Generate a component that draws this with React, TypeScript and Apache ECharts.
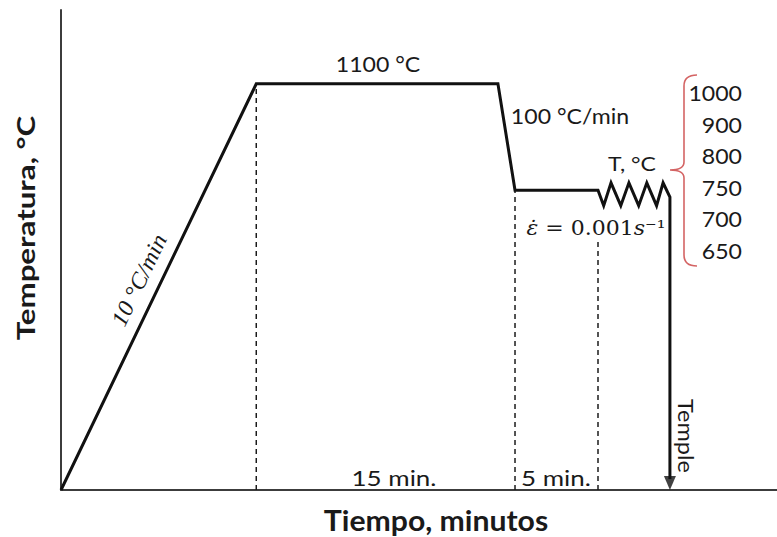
import React, { useEffect, useRef } from "react";
import * as echarts from "echarts";

// Thermal cycle (schematic time in minutes, temperature in °C)
const profileTime = [0, 12, 26.85, 27.9, 33];
const profileTemp = [0, 1100, 1100, 812, 812];

// Deformation zig-zag followed by the quench drop
const zigzagTime = [33, 33.35, 33.8, 34.4, 34.9, 35.5, 36.0, 36.6, 37.0, 37.42, 37.42];
const zigzagTemp = [812, 770, 832, 770, 832, 770, 832, 770, 832, 793, 30];

// Dashed guide lines dropped to the time axis
const guideTime = [12, 27.9, 33];
const guideTop = [1100, 812, 672];

// Arrow head at the end of the quench
const quenchTip: [number, number] = [37.42, 19];

// Deformation temperatures listed on the right
const deformTemps = [1000, 900, 800, 750, 700, 650];

const BRACE_D =
  "M697,75 Q684,75 684,86 L684,162 Q684,170 670,170 Q684,170 684,178 L684,255 Q684,266 697,266";
echarts.graphic.registerShape("brace", echarts.graphic.extendPath(BRACE_D, {}));

const SANS = "Lato, 'Open Sans', sans-serif";
const INK = "#1a1a1a";

function label(text: string, x: number, y: number, size: number, extra: any = {}) {
  return {
    type: "text",
    x,
    y,
    rotation: extra.rotation || 0,
    scaleX: extra.scaleX || 1.1,
    scaleY: 1,
    silent: true,
    style: {
      text,
      fill: INK,
      fontFamily: extra.fontFamily || SANS,
      fontSize: size,
      fontWeight: extra.fontWeight || "normal",
      fontStyle: extra.fontStyle || "normal",
      align: extra.align || "center",
      textAlign: extra.align || "center",
      verticalAlign: "middle",
      textVerticalAlign: "middle",
    },
  };
}

export default function App() {
  const ref = useRef<HTMLDivElement>(null);

  useEffect(() => {
    if (!ref.current) return;
    const chart = echarts.init(ref.current, null, { renderer: "svg" });

    const mainData = profileTime
      .map((t, i) => [t, profileTemp[i]])
      .concat(zigzagTime.map((t, i) => [t, zigzagTemp[i]]));

    const guides = guideTime.map((t, i) => ({
      type: "line",
      data: [
        [t, 0],
        [t, guideTop[i]],
      ],
      symbol: "none",
      silent: true,
      lineStyle: { color: INK, width: 1.5, type: [5, 4] },
      z: 1,
    }));

    const tempLabels = deformTemps.map((v, i) =>
      label(String(v), 742, 93 + i * 31.6, 21, { align: "right" })
    );

    chart.setOption({
      animation: false,
      grid: { left: 61, top: 10, right: 0, bottom: 47 },
      xAxis: {
        type: "value",
        min: 0,
        max: 44,
        axisLine: { show: true, lineStyle: { color: "#3c3c3c", width: 2 } },
        axisTick: { show: false },
        axisLabel: { show: false },
        splitLine: { show: false },
      },
      yAxis: {
        type: "value",
        min: 0,
        max: 1300,
        axisLine: { show: true, lineStyle: { color: "#3c3c3c", width: 2 } },
        axisTick: { show: false },
        axisLabel: { show: false },
        splitLine: { show: false },
      },
      series: [
        ...guides,
        {
          type: "line",
          data: mainData,
          symbol: "none",
          silent: true,
          lineStyle: { color: "#111", width: 3, join: "miter" },
          z: 3,
        },
        {
          type: "scatter",
          data: [quenchTip],
          symbol: "triangle",
          symbolRotate: 180,
          symbolSize: [12, 14],
          itemStyle: { color: "#111" },
          silent: true,
          z: 4,
        },
      ],
      graphic: [
        label("1100 °C", 378, 64, 21),
        label("100 °C/min", 570, 116, 21),
        label("T, °C", 632, 164, 20, { scaleX: 1.15 }),
        {
          type: "text",
          x: 596,
          y: 228,
          scaleX: 1.1,
          silent: true,
          style: {
            text: "{i|ε̇} = 0.001{i|s}⁻¹",
            fill: INK,
            fontFamily: "'DejaVu Serif', serif",
            fontSize: 20,
            align: "center",
            textAlign: "center",
            verticalAlign: "middle",
            textVerticalAlign: "middle",
            rich: {
              i: { fontStyle: "italic", fontFamily: "'DejaVu Serif', serif", fontSize: 20, fill: INK },
            },
          },
        },
        label("10 °C/min", 139, 280, 23, {
          rotation: (64.3 * Math.PI) / 180,
          fontFamily: "'Liberation Serif', serif",
          fontStyle: "italic",
          scaleX: 1.05,
        }),
        label("15 min.", 394, 477, 22, { scaleX: 1.18 }),
        label("5 min.", 556, 477, 22, { scaleX: 1.18 }),
        label("Temple", 686, 436, 21, { rotation: -Math.PI / 2, scaleX: 1.12 }),
        label("Tiempo, minutos", 436, 520, 29, { fontWeight: "bold", scaleX: 1.04 }),
        label("Temperatura, °C", 25, 228, 25, {
          fontWeight: "bold",
          rotation: Math.PI / 2,
          scaleX: 1.25,
        }),
        {
          type: "brace",
          x: 0,
          y: 0,
          silent: true,
          style: { stroke: "#d46464", fill: "none", lineWidth: 1.6 },
        },
        ...tempLabels,
      ],
    });

    return () => chart.dispose();
  }, []);

  return (
    <div
      ref={ref}
      style={{ position: "fixed", left: 0, top: 0, width: 777, height: 537, background: "#fff" }}
    />
  );
}
